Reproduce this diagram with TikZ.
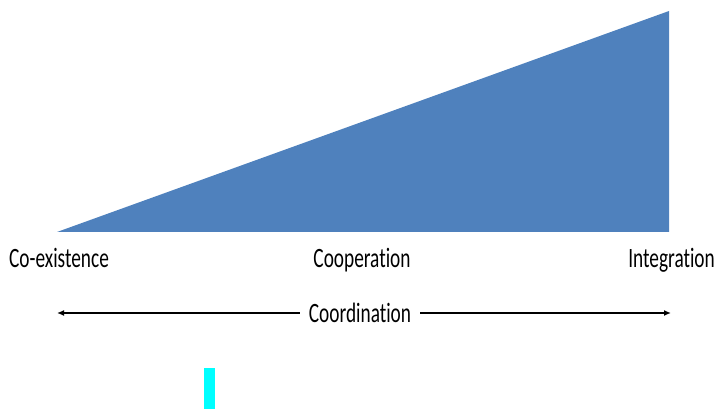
\documentclass[tikz,border=0pt]{standalone}
\usepackage{fontspec}
\setmainfont{Carlito}[Ligatures=NoCommon]
\usetikzlibrary{arrows.meta}
\definecolor{wedgeblue}{RGB}{79,129,189}
\definecolor{barcyan}{RGB}{0,255,255}
\newcommand{\lbl}[1]{\scalebox{0.69}[1]{\fontsize{28}{32}\selectfont #1}}
\begin{document}
\begin{tikzpicture}[x=1pt,y=1pt]
\useasboundingbox (0,0) rectangle (715,409);
% growing wedge
\fill[wedgeblue] (57,177) -- (669,177) -- (669,398) -- cycle;

\node[anchor=base west, inner sep=0pt] (coex) at (9,141) {\lbl{Co-existence}};
\node[anchor=base, inner sep=0pt] (coop) at (362,141) {\lbl{Cooperation}};
\node[anchor=base east, inner sep=0pt] (integ) at (715,141) {\lbl{Integration}};

% scale arrow
\coordinate (lend) at (57,96);
\coordinate (rend) at (671,96);
\node[fill=white, inner xsep=9pt, inner ysep=2pt] (coord) at (360,96) {\lbl{Coordination}};
\draw[line width=1.5pt, -{Latex[length=7pt,width=6pt]}] (coord.west) -- (lend);
\draw[line width=1.5pt, -{Latex[length=7pt,width=6pt]}] (coord.east) -- (rend);

\fill[barcyan] (204,0) rectangle (215,41);
\end{tikzpicture}
\end{document}
